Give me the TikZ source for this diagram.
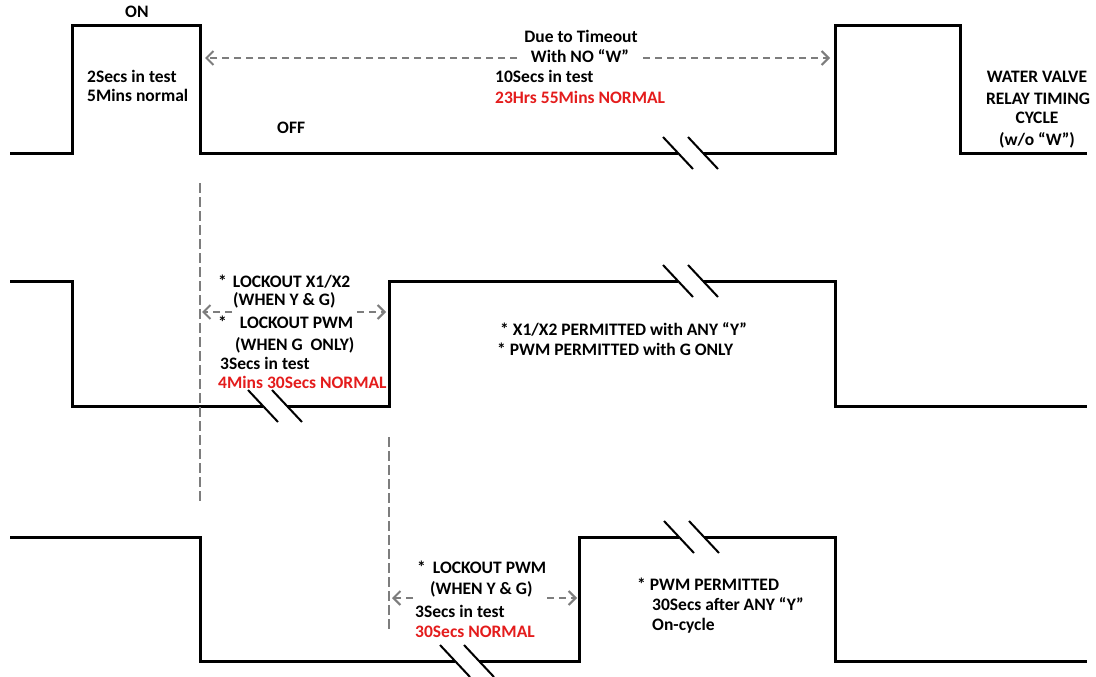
\documentclass[tikz,border=0pt]{standalone}
\usepackage{fontspec}
\setmainfont{Carlito}
\usetikzlibrary{arrows.meta}
\definecolor{nred}{RGB}{228,28,28}
\definecolor{dgray}{RGB}{125,125,125}
\tikzset{
  wave/.style={line width=3pt, line join=miter},
  brk/.style={line width=2pt},
  dgl/.style={dgray, line width=2pt, dash pattern=on 7pt off 5pt},
  dvl/.style={dgray, line width=2pt, dash pattern=on 10pt off 4pt},
  lbl/.style={font=\bfseries\fontsize{17.5}{20.5}\selectfont, inner sep=0pt, anchor=base west},
  lblc/.style={lbl, anchor=base},
  rlbl/.style={lbl, text=nred},
  tip/.style={-{Straight Barb[length=7pt,width=14pt]}}
}
\begin{document}
\begin{tikzpicture}[x=1pt,y=-1pt]
\fill[white] (0,0) rectangle (1096,677);
\useasboundingbox (0,0) rectangle (1096,677);

% ---------- top waveform ----------
\draw[wave] (10,153) -- (72,153) -- (72,26) -- (200,26) -- (200,153) -- (678,153);
\draw[wave] (703,153) -- (835,153) -- (835,26) -- (960,26) -- (960,153) -- (1087,153);
\draw[brk] (663,137) -- (693,169);
\draw[brk] (688,137) -- (718,169);

% ---------- middle waveform ----------
\draw[wave] (10,281) -- (72,281) -- (72,406) -- (263,406);
\draw[wave] (287,406) -- (389,406) -- (389,281) -- (678,281);
\draw[wave] (703,281) -- (835,281) -- (835,406) -- (1087,406);
\draw[brk] (248,390) -- (278,422);
\draw[brk] (272,390) -- (302,422);
\draw[brk] (663,265) -- (693,297);
\draw[brk] (688,265) -- (718,297);

% ---------- bottom waveform ----------
\draw[wave] (10,537) -- (200,537) -- (200,661) -- (455,661);
\draw[wave] (479,661) -- (579,661) -- (579,537) -- (679,537);
\draw[wave] (704,537) -- (835,537) -- (835,661) -- (1087,661);
\draw[brk] (440,645) -- (470,677);
\draw[brk] (464,645) -- (494,677);
\draw[brk] (664,521) -- (694,553);
\draw[brk] (689,521) -- (719,553);

% ---------- vertical dashed markers ----------
\coordinate (v1a) at (200,183);
\coordinate (v1b) at (200,502);
\coordinate (v2a) at (389,437);
\coordinate (v2b) at (389,632);
\draw[dvl] (v1a) -- (v1b);
\draw[dvl] (v2a) -- (v2b);

% ---------- dashed double arrows ----------
\coordinate (tA) at (205,58);
\coordinate (tAg) at (517,58);
\coordinate (tBg) at (643,58);
\coordinate (tB) at (830,58);
\draw[dgl,tip] (tAg) -- (tA);
\draw[dgl,tip] (tBg) -- (tB);

\coordinate (mA) at (202,312);
\coordinate (mAg) at (232,312);
\coordinate (mBg) at (357,312);
\coordinate (mB) at (386,312);
\draw[dgl,tip] (mAg) -- (mA);
\draw[dgl,tip] (mBg) -- (mB);

\coordinate (bA) at (392,598);
\coordinate (bAg) at (413,598);
\coordinate (bBg) at (547,598);
\coordinate (bB) at (577,598);
\draw[dgl,tip] (bAg) -- (bA);
\draw[dgl,tip] (bBg) -- (bB);

% ---------- top labels ----------
\node[lbl] (on) at (125,18) {ON};
\node[lbl] (t2s) at (87,82) {2Secs in test};
\node[lbl] (t5m) at (87,102) {5Mins normal};
\node[lbl] (off) at (277,133) {OFF};
\node[lblc] (due) at (581,43) {Due to Timeout};
\node[lblc] (wno) at (580,63) {With NO “W”};
\node[lbl] (t10) at (495,83) {10Secs in test};
\node[rlbl] (t23) at (495,103) {23Hrs 55Mins NORMAL};
\node[lblc] (wv1) at (1037,83) {WATER VALVE};
\node[lblc] (wv2) at (1038,104) {RELAY TIMING};
\node[lblc] (wv3) at (1037,124) {CYCLE};
\node[lblc] (wv4) at (1037,145) {(w/o “W”)};

% ---------- middle labels ----------
\node[lbl] (m1) at (218,287) {*\hspace{6pt}LOCKOUT X1/X2};
\node[lbl] (m2) at (233,305) {(WHEN Y \& G)};
\node[lbl] (m3) at (218,328) {*\hspace{13pt}LOCKOUT PWM};
\node[lbl] (m4) at (235,350) {(WHEN G\ \ ONLY)};
\node[lbl] (m5) at (220,369) {3Secs in test};
\node[rlbl] (m6) at (218,388) {4Mins 30Secs NORMAL};
\node[lbl] (p1) at (500,335) {* X1/X2 PERMITTED with ANY “Y”};
\node[lbl] (p2) at (497,355) {* PWM PERMITTED with G ONLY};

% ---------- bottom labels ----------
\node[lbl] (b1) at (417,573) {*\hspace{7pt}LOCKOUT PWM};
\node[lbl] (b2) at (430,594) {(WHEN Y \& G)};
\node[lbl] (b3) at (415,617) {3Secs in test};
\node[rlbl] (b4) at (415,637) {30Secs NORMAL};
\node[lbl] (q1) at (637,590) {* PWM PERMITTED};
\node[lbl] (q2) at (652,610) {30Secs after ANY “Y”};
\node[lbl] (q3) at (652,630) {On-cycle};
\end{tikzpicture}
\end{document}
